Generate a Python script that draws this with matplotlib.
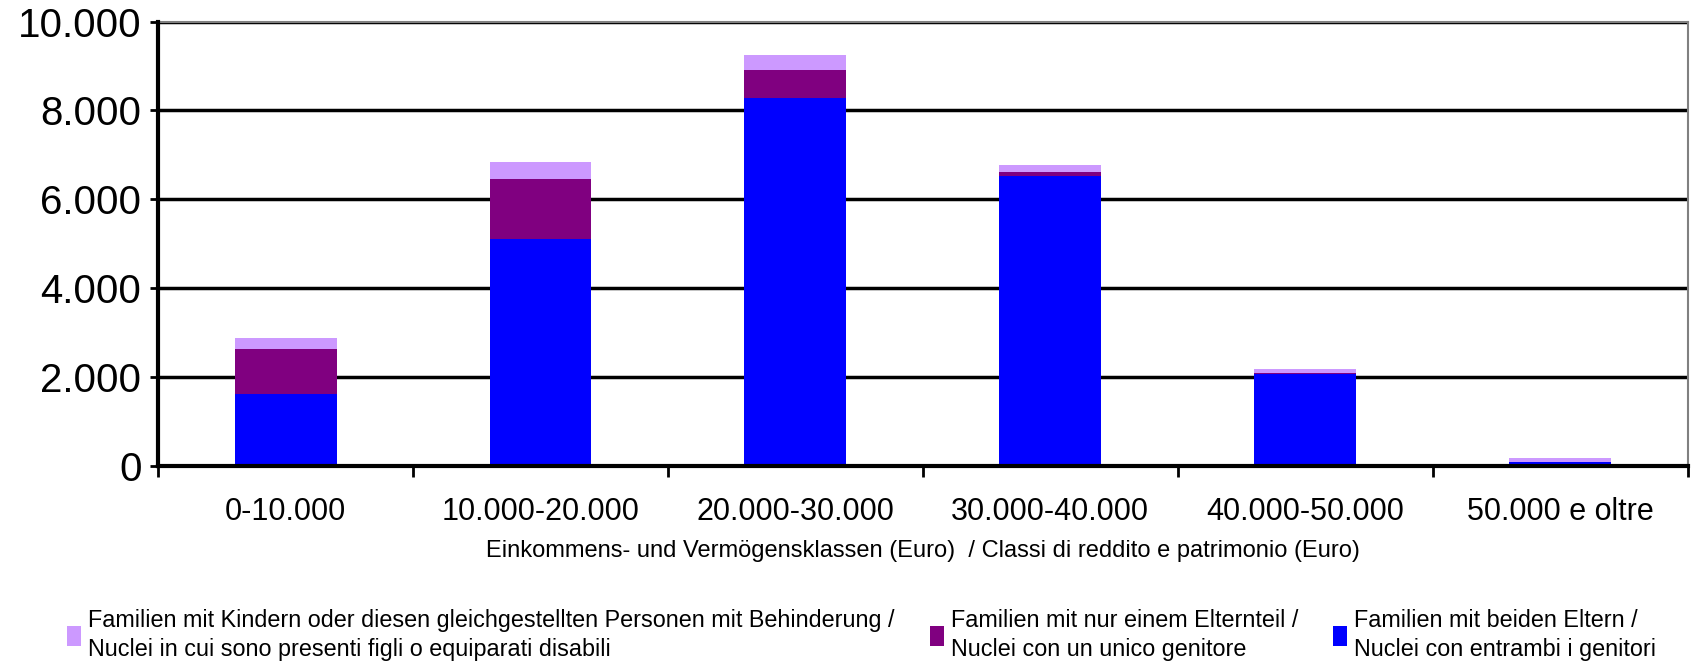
import matplotlib.pyplot as plt
from matplotlib.ticker import FuncFormatter

plt.rcParams['font.family'] = ['Liberation Sans', 'DejaVu Sans']

categories = ['0-10.000', '10.000-20.000', '20.000-30.000',
              '30.000-40.000', '40.000-50.000', '50.000 e oltre']
both_parents = [1610, 5100, 8280, 6530, 2080, 90]
single_parent = [1030, 1350, 640, 85, 5, 5]
disabled = [240, 400, 325, 165, 90, 90]

labels = [
    'Familien mit beiden Eltern /\nNuclei con entrambi i genitori',
    'Familien mit nur einem Elternteil /\nNuclei con un unico genitore',
    'Familien mit Kindern oder diesen gleichgestellten Personen mit Behinderung /\n'
    'Nuclei in cui sono presenti figli o equiparati disabili',
]
colors = ['#0000ff', '#800080', '#cc99ff']


def main():
    fig = plt.figure(figsize=(16.91, 6.69), dpi=100)
    ax = fig.add_axes([0.0935, 0.3034, 0.9045, 0.6643])

    x = list(range(len(categories)))
    bottom2 = [a + b for a, b in zip(both_parents, single_parent)]
    b1 = ax.bar(x, both_parents, width=0.4, color=colors[0], zorder=3)
    b2 = ax.bar(x, single_parent, width=0.4, bottom=both_parents, color=colors[1], zorder=3)
    b3 = ax.bar(x, disabled, width=0.4, bottom=bottom2, color=colors[2], zorder=3)

    ax.set_xlim(-0.5, len(categories) - 0.5)
    ax.set_ylim(0, 10000)
    ax.set_yticks(range(0, 10001, 2000))
    ax.yaxis.set_major_formatter(FuncFormatter(lambda v, p: f'{int(v):,}'.replace(',', '.')))
    ax.grid(axis='y', color='black', linewidth=2.5, zorder=1)

    # categories sit between ticks
    ax.set_xticks([i - 0.5 for i in range(len(categories) + 1)])
    ax.set_xticklabels([])
    ax.set_xticks(x, minor=True)
    ax.set_xticklabels(categories, minor=True, fontsize=22)
    ax.tick_params(axis='x', which='minor', length=0, pad=22)
    ax.tick_params(axis='x', which='major', length=8, width=2, direction='out')
    ax.tick_params(axis='y', labelsize=29, length=6, width=2, pad=6)

    for side in ['left', 'bottom']:
        ax.spines[side].set_linewidth(3)
        ax.spines[side].set_zorder(4)
    for side in ['top', 'right']:
        ax.spines[side].set_color('#808080')
        ax.spines[side].set_linewidth(1.5)

    ax.set_xlabel('Einkommens- und Vermögensklassen (Euro)  / Classi di reddito e patrimonio (Euro)',
                  fontsize=17, labelpad=10)

    leg = fig.legend([b3, b2, b1], [labels[2], labels[1], labels[0]],
                     loc='lower left', bbox_to_anchor=(0.03, -0.012), ncol=3, frameon=False,
                     fontsize=16.8, handlelength=0.6, handleheight=0.9, handletextpad=0.3,
                     columnspacing=1.5, borderpad=0.2)
    for t in leg.get_texts():
        t.set_linespacing(1.3)

    fig.savefig('out.png', dpi=100)


if __name__ == '__main__':
    main()
